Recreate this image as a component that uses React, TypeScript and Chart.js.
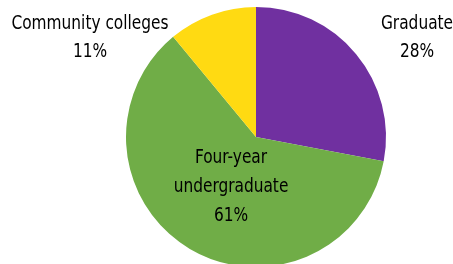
import React, { useEffect, useRef } from "react";
import { Chart, registerables } from "chart.js";

Chart.register(...registerables);

const categories = ["Graduate", "Four-year undergraduate", "Community colleges"];
const labelLines = [["Graduate", "28%"], ["Four-year", "undergraduate", "61%"], ["Community colleges", "11%"]];
const shares = [28, 61, 11];
const colors = ["#7030A0", "#70AD47", "#FFDA12"];

const FONT = '"DejaVu Sans Condensed", sans-serif';

const labelPlugin = {
  id: "sliceLabels",
  afterDraw(chart: any) {
    const ctx = chart.ctx;
    ctx.save();
    ctx.fillStyle = "#000";
    ctx.textAlign = "center";
    ctx.textBaseline = "alphabetic";
    ctx.font = `19px ${FONT}`;
    // anchors: [centerX, firstBaseline, lineGap]
    const anchors: [number, number, number][] = [
      [417, 29, 28],
      [231, 163, 29],
      [90, 29, 28],
    ];
    const sx = 0.9;
    labelLines.forEach((lines, i) => {
      const [x, y, gap] = anchors[i];
      lines.forEach((t, j) => {
        ctx.save();
        ctx.translate(x, y + j * gap);
        ctx.scale(sx, 1);
        ctx.fillText(t, 0, 0);
        ctx.restore();
      });
    });
    ctx.restore();
  },
};

export default function App() {
  const ref = useRef<HTMLCanvasElement | null>(null);
  useEffect(() => {
    if (!ref.current) return;
    const chart = new Chart(ref.current, {
      type: "pie",
      data: {
        labels: categories,
        datasets: [
          {
            data: shares,
            backgroundColor: colors,
            borderWidth: 0,
          },
        ],
      },
      options: {
        responsive: false,
        animation: false,
        devicePixelRatio: 1,
        layout: { padding: { left: 59, right: 0, top: 7, bottom: 7 } },
        plugins: {
          legend: { display: false },
          tooltip: { enabled: false },
        },
      },
      plugins: [labelPlugin],
    });
    return () => chart.destroy();
  }, []);
  return (
    <div
      style={{
        position: "fixed",
        left: 0,
        top: 0,
        width: 453,
        height: 264,
        overflow: "hidden",
        background: "#fff",
      }}
    >
      <canvas ref={ref} width={453} height={274} style={{ width: 453, height: 274, display: "block" }} />
    </div>
  );
}
